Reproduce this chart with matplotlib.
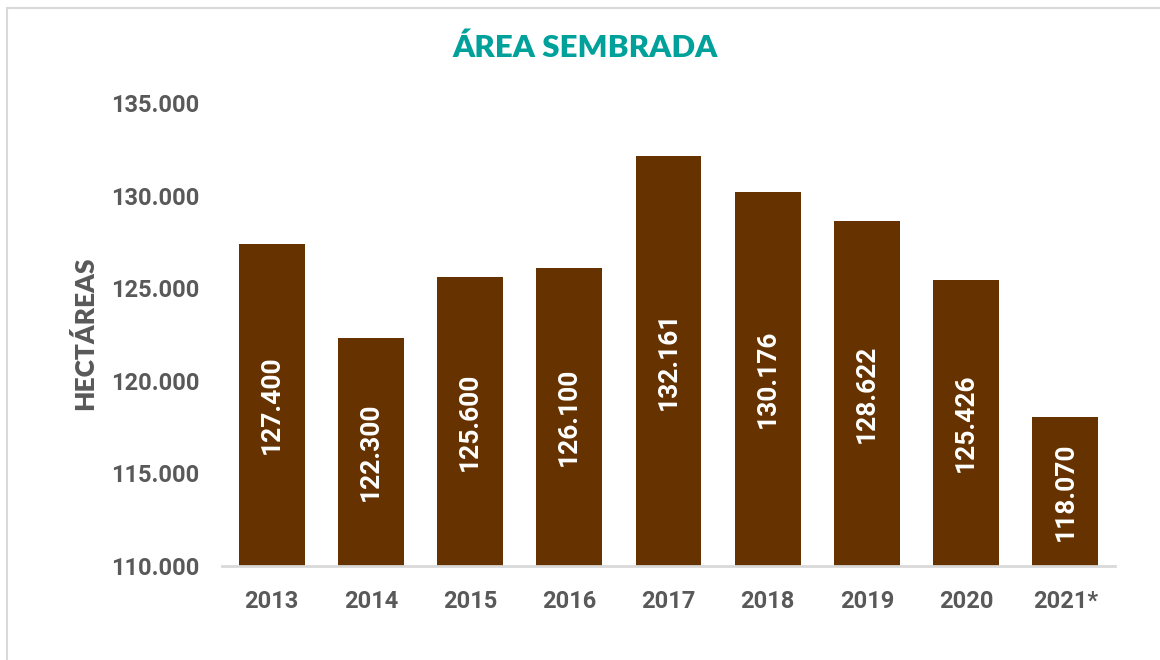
import matplotlib
matplotlib.use("Agg")
import matplotlib.pyplot as plt
from matplotlib.patches import Rectangle
from matplotlib.ticker import FuncFormatter

years = ["2013", "2014", "2015", "2016", "2017", "2018", "2019", "2020", "2021*"]
area = [127400, 122300, 125600, 126100, 132161, 130176, 128622, 125426, 118070]
yticks = [110000, 115000, 120000, 125000, 130000, 135000]

W, H = 1160, 660
fig = plt.figure(figsize=(W / 100, H / 100), dpi=100)
ax = fig.add_axes([222 / W, 1 - 566 / H, (1115 - 222) / W, (566 - 103) / H])

bar_color = "#663300"
gray = "#595959"

def fmt(v):
    return f"{v:,.0f}".replace(",", ".")

x = list(range(len(years)))
bars = ax.bar(x, area, width=0.665, color=bar_color, zorder=2)
base = 110000
for xi, v in zip(x, area):
    ax.text(xi, (v + base) / 2, fmt(v), rotation=90, ha="center", va="center",
            color="white", fontsize=19, fontweight="bold", family="Roboto")

ax.set_xlim(-0.5, len(years) - 0.5)
ax.set_ylim(110000, 135000)
ax.set_yticks(yticks)
ax.yaxis.set_major_formatter(FuncFormatter(lambda v, p: fmt(v)))
ax.set_xticks(x)
ax.set_xticklabels(years)
for lab in ax.get_xticklabels() + ax.get_yticklabels():
    lab.set_fontfamily("Roboto")
    lab.set_fontweight("bold")
    lab.set_fontsize(17)
    lab.set_color(gray)
ax.tick_params(axis="both", length=0)
ax.tick_params(axis="y", pad=16)
ax.tick_params(axis="x", pad=17)
for s in ["top", "right", "left"]:
    ax.spines[s].set_visible(False)
ax.spines["bottom"].set_color("#d9d9d9")
ax.spines["bottom"].set_linewidth(2)
ax.spines["bottom"].set_zorder(3)

fig.text(85 / W, 1 - 333 / H, "HECTÁREAS", rotation=90, ha="center", va="center",
         fontsize=19, fontweight="heavy", color=gray, family="Lato")
fig.text(585 / W, 1 - 48 / H, "ÁREA SEMBRADA", ha="center", va="center",
         fontsize=22.5, fontweight="heavy", color="#00A19A", family="Lato")

fig.patches.append(Rectangle((7 / W, -0.1), 1.2, 1 - 8 / H + 0.1, transform=fig.transFigure,
                             fill=False, edgecolor="#d9d9d9", linewidth=1.5))

fig.savefig("out.png", dpi=100)
